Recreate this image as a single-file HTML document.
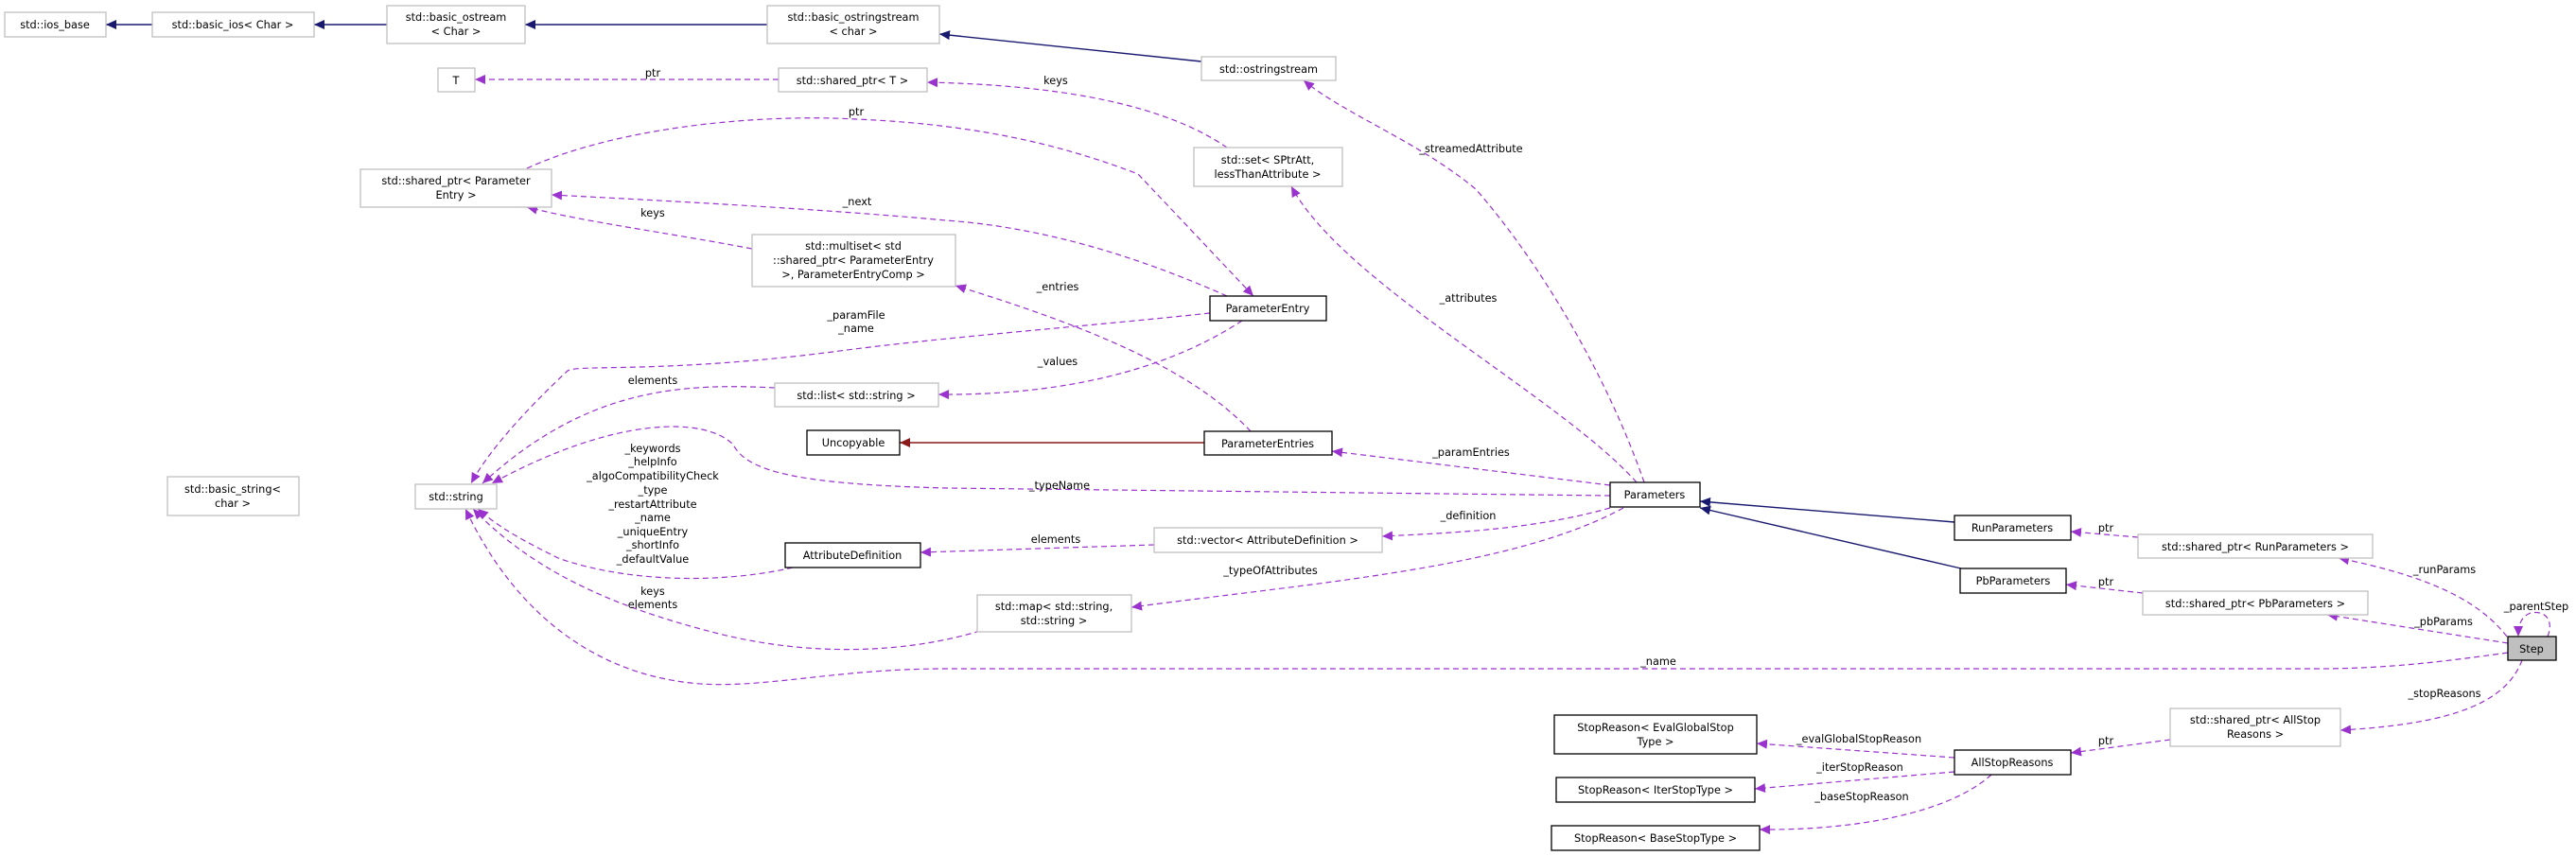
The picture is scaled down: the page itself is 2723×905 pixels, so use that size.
<!DOCTYPE html>
<html><head><meta charset="utf-8"><style>
html,body{margin:0;padding:0;background:#fff;}
svg{display:block;}
text{font-family:"DejaVu Sans","Liberation Sans",sans-serif;font-size:11.3px;fill:#000;}
.g{fill:#fff;stroke:#bfbfbf;stroke-width:1.3;}
.b{fill:#fff;stroke:#000;stroke-width:1.3;}
.d{fill:none;stroke:#9a32cd;stroke-width:1.2;stroke-dasharray:6,4;}
.n{fill:none;stroke:#191970;stroke-width:1.4;}
.r{fill:none;stroke:#8b1a1a;stroke-width:1.4;}
</style></head><body>
<svg width="2723" height="905" viewBox="0 0 2723 905" xmlns="http://www.w3.org/2000/svg">
<defs>
<marker id="ap" markerUnits="userSpaceOnUse" markerWidth="12" markerHeight="10" refX="11" refY="5" orient="auto"><path d="M0,0 L11,5 L0,10 z" fill="#9a32cd"/></marker>
<marker id="an" markerUnits="userSpaceOnUse" markerWidth="12" markerHeight="10" refX="11" refY="5" orient="auto"><path d="M0,0 L11,5 L0,10 z" fill="#191970"/></marker>
<marker id="ar" markerUnits="userSpaceOnUse" markerWidth="12" markerHeight="10" refX="11" refY="5" orient="auto"><path d="M0,0 L11,5 L0,10 z" fill="#8b1a1a"/></marker>
</defs>

<!-- edges -->
<path class="n" d="M161,26 L112,26" marker-end="url(#an)"/>
<path class="n" d="M409,26 L332,26" marker-end="url(#an)"/>
<path class="n" d="M811,26 L555,26" marker-end="url(#an)"/>
<path class="n" d="M1270,65 L993,36" marker-end="url(#an)"/>
<path class="d" d="M823,84 L502,84" marker-end="url(#ap)"/>
<path class="d" d="M1297,156 C1230,110 1120,90 980,87" marker-end="url(#ap)"/>
<path class="d" d="M557,178 C650,135 800,120 905,126 C1050,132 1140,160 1203,184 L1325,313" marker-end="url(#ap)"/>
<path class="d" d="M1297,313 C1200,270 1100,240 1000,233 C870,221 700,212 583,206" marker-end="url(#ap)"/>
<path class="d" d="M795,263 C700,245 620,235 557,219" marker-end="url(#ap)"/>
<path class="d" d="M1322,456 C1260,390 1150,345 1010,302" marker-end="url(#ap)"/>
<path class="d" d="M1279,331 C1150,345 1000,356 880,372 C700,395 610,385 600,392 C570,420 520,470 498,511" marker-end="url(#ap)"/>
<path class="d" d="M1313,339 C1220,400 1100,418 992,417" marker-end="url(#ap)"/>
<path class="d" d="M819,410 C720,405 620,410 510,511" marker-end="url(#ap)"/>
<path class="d" d="M1702,524 L1000,516 C850,512 790,500 775,470 C745,440 650,440 520,511" marker-end="url(#ap)"/>
<path class="r" d="M1273,468 L951,468" marker-end="url(#ar)"/>
<path class="d" d="M1702,513 L1408,477" marker-end="url(#ap)"/>
<path class="d" d="M1730,510 C1650,420 1420,300 1365,197" marker-end="url(#ap)"/>
<path class="d" d="M1738,510 C1700,400 1630,280 1560,200 C1500,150 1420,120 1378,85" marker-end="url(#ap)"/>
<path class="d" d="M1702,537 C1620,560 1540,563 1461,567" marker-end="url(#ap)"/>
<path class="d" d="M1716,537 C1600,600 1400,615 1196,642" marker-end="url(#ap)"/>
<path class="d" d="M1220,576 L973,584" marker-end="url(#ap)"/>
<path class="d" d="M838,600 C760,618 660,615 590,590 C560,575 530,560 505,538" marker-end="url(#ap)"/>
<path class="d" d="M1036,667 C960,690 860,695 760,670 C640,640 560,600 500,538" marker-end="url(#ap)"/>
<path class="d" d="M2651,690 C2580,700 2520,707 2450,707 L1000,707 C880,707 800,730 730,722 C620,710 540,640 492,538" marker-end="url(#ap)"/>
<path class="n" d="M2066,552 L1797,530" marker-end="url(#an)"/>
<path class="n" d="M2073,601 L1797,537" marker-end="url(#an)"/>
<path class="d" d="M2260,568 L2189,562" marker-end="url(#ap)"/>
<path class="d" d="M2265,627 L2184,618" marker-end="url(#ap)"/>
<path class="d" d="M2650,673 C2620,635 2570,610 2472,590" marker-end="url(#ap)"/>
<path class="d" d="M2651,680 L2460,650" marker-end="url(#ap)"/>
<path class="d" d="M2693,673 C2700,655 2690,645 2675,648 C2665,652 2662,660 2662,673" marker-end="url(#ap)"/>
<path class="d" d="M2666,698 C2650,740 2600,765 2474,772" marker-end="url(#ap)"/>
<path class="d" d="M2294,782 L2189,796" marker-end="url(#ap)"/>
<path class="d" d="M2066,801 L1857,786" marker-end="url(#ap)"/>
<path class="d" d="M2066,816 L1855,834" marker-end="url(#ap)"/>
<path class="d" d="M2105,819 C2060,860 1960,878 1860,877" marker-end="url(#ap)"/>

<!-- nodes -->
<rect class="g" x="5" y="13" width="107" height="26"/><text x="58" y="30" text-anchor="middle">std::ios_base</text>
<rect class="g" x="161" y="13" width="171" height="26"/><text x="246" y="30" text-anchor="middle">std::basic_ios&lt; Char &gt;</text>
<rect class="g" x="409" y="6" width="146" height="40"/><text x="482" y="22" text-anchor="middle">std::basic_ostream</text><text x="482" y="37" text-anchor="middle">&lt; Char &gt;</text>
<rect class="g" x="811" y="6" width="182" height="40"/><text x="902" y="22" text-anchor="middle">std::basic_ostringstream</text><text x="902" y="37" text-anchor="middle">&lt; char &gt;</text>
<rect class="g" x="463" y="72" width="39" height="25"/><text x="482" y="89" text-anchor="middle">T</text>
<rect class="g" x="823" y="72" width="157" height="25"/><text x="901" y="89" text-anchor="middle">std::shared_ptr&lt; T &gt;</text>
<rect class="g" x="1270" y="60" width="142" height="25"/><text x="1341" y="77" text-anchor="middle">std::ostringstream</text>
<rect class="g" x="1262" y="156" width="157" height="41"/><text x="1340" y="173" text-anchor="middle">std::set&lt; SPtrAtt,</text><text x="1340" y="188" text-anchor="middle">lessThanAttribute &gt;</text>
<rect class="g" x="381" y="179" width="202" height="40"/><text x="482" y="195" text-anchor="middle">std::shared_ptr&lt; Parameter</text><text x="482" y="210" text-anchor="middle">Entry &gt;</text>
<rect class="g" x="795" y="248" width="215" height="55"/><text x="902" y="264" text-anchor="middle">std::multiset&lt; std</text><text x="902" y="279" text-anchor="middle">::shared_ptr&lt; ParameterEntry</text><text x="902" y="294" text-anchor="middle">&gt;, ParameterEntryComp &gt;</text>
<rect class="b" x="1279" y="313" width="123" height="26"/><text x="1340" y="330" text-anchor="middle">ParameterEntry</text>
<rect class="g" x="819" y="405" width="173" height="25"/><text x="905" y="422" text-anchor="middle">std::list&lt; std::string &gt;</text>
<rect class="b" x="853" y="455" width="98" height="26"/><text x="902" y="472" text-anchor="middle">Uncopyable</text>
<rect class="b" x="1273" y="456" width="135" height="25"/><text x="1340" y="473" text-anchor="middle">ParameterEntries</text>
<rect class="g" x="177" y="504" width="139" height="41"/><text x="246" y="521" text-anchor="middle">std::basic_string&lt;</text><text x="246" y="536" text-anchor="middle">char &gt;</text>
<rect class="g" x="439" y="512" width="86" height="26"/><text x="482" y="529" text-anchor="middle">std::string</text>
<rect class="b" x="1702" y="510" width="95" height="26"/><text x="1749" y="527" text-anchor="middle">Parameters</text>
<rect class="g" x="1220" y="558" width="241" height="26"/><text x="1340" y="575" text-anchor="middle">std::vector&lt; AttributeDefinition &gt;</text>
<rect class="b" x="830" y="574" width="143" height="26"/><text x="901" y="591" text-anchor="middle">AttributeDefinition</text>
<rect class="g" x="1033" y="629" width="163" height="39"/><text x="1114" y="645" text-anchor="middle">std::map&lt; std::string,</text><text x="1114" y="660" text-anchor="middle">std::string &gt;</text>
<rect class="b" x="2066" y="545" width="123" height="26"/><text x="2127" y="562" text-anchor="middle">RunParameters</text>
<rect class="b" x="2072" y="601" width="112" height="26"/><text x="2128" y="618" text-anchor="middle">PbParameters</text>
<rect class="g" x="2260" y="565" width="248" height="25"/><text x="2384" y="582" text-anchor="middle">std::shared_ptr&lt; RunParameters &gt;</text>
<rect class="g" x="2265" y="625" width="238" height="25"/><text x="2384" y="642" text-anchor="middle">std::shared_ptr&lt; PbParameters &gt;</text>
<rect x="2651" y="673" width="51" height="25" fill="#bfbfbf" stroke="#000" stroke-width="1.3"/><text x="2676" y="690" text-anchor="middle">Step</text>
<rect class="g" x="2294" y="749" width="180" height="40"/><text x="2384" y="765" text-anchor="middle">std::shared_ptr&lt; AllStop</text><text x="2384" y="780" text-anchor="middle">Reasons &gt;</text>
<rect class="b" x="2066" y="793" width="123" height="26"/><text x="2127" y="810" text-anchor="middle">AllStopReasons</text>
<rect class="b" x="1643" y="756" width="214" height="41"/><text x="1750" y="773" text-anchor="middle">StopReason&lt; EvalGlobalStop</text><text x="1750" y="788" text-anchor="middle">Type &gt;</text>
<rect class="b" x="1645" y="822" width="210" height="26"/><text x="1750" y="839" text-anchor="middle">StopReason&lt; IterStopType &gt;</text>
<rect class="b" x="1640" y="873" width="220" height="26"/><text x="1750" y="890" text-anchor="middle">StopReason&lt; BaseStopType &gt;</text>

<!-- edge labels -->
<g text-anchor="middle">
<text x="690" y="81">ptr</text>
<text x="1116" y="89">keys</text>
<text x="905" y="122">ptr</text>
<text x="906" y="217">_next</text>
<text x="690" y="229">keys</text>
<text x="1555" y="161">_streamedAttribute</text>
<text x="1118" y="307">_entries</text>
<text x="1552" y="319">_attributes</text>
<text x="905" y="337">_paramFile</text><text x="905" y="351">_name</text>
<text x="1118" y="386">_values</text>
<text x="690" y="406">elements</text>
<text x="690" y="478">_keywords</text>
<text x="690" y="492">_helpInfo</text>
<text x="690" y="507">_algoCompatibilityCheck</text>
<text x="690" y="522">_type</text>
<text x="690" y="537">_restartAttribute</text>
<text x="690" y="551">_name</text>
<text x="690" y="566">_uniqueEntry</text>
<text x="690" y="580">_shortInfo</text>
<text x="690" y="595">_defaultValue</text>
<text x="690" y="629">keys</text><text x="690" y="643">elements</text>
<text x="1555" y="482">_paramEntries</text>
<text x="1120" y="517">_typeName</text>
<text x="1552" y="549">_definition</text>
<text x="1116" y="574">elements</text>
<text x="1343" y="607">_typeOfAttributes</text>
<text x="1753" y="703">_name</text>
<text x="2226" y="562">ptr</text>
<text x="2584" y="606">_runParams</text>
<text x="2226" y="619">ptr</text>
<text x="2681" y="645">_parentStep</text>
<text x="2583" y="661">_pbParams</text>
<text x="2584" y="737">_stopReasons</text>
<text x="2226" y="787">ptr</text>
<text x="1965" y="785">_evalGlobalStopReason</text>
<text x="1966" y="815">_iterStopReason</text>
<text x="1968" y="846">_baseStopReason</text>
</g>
</svg>
</body></html>
